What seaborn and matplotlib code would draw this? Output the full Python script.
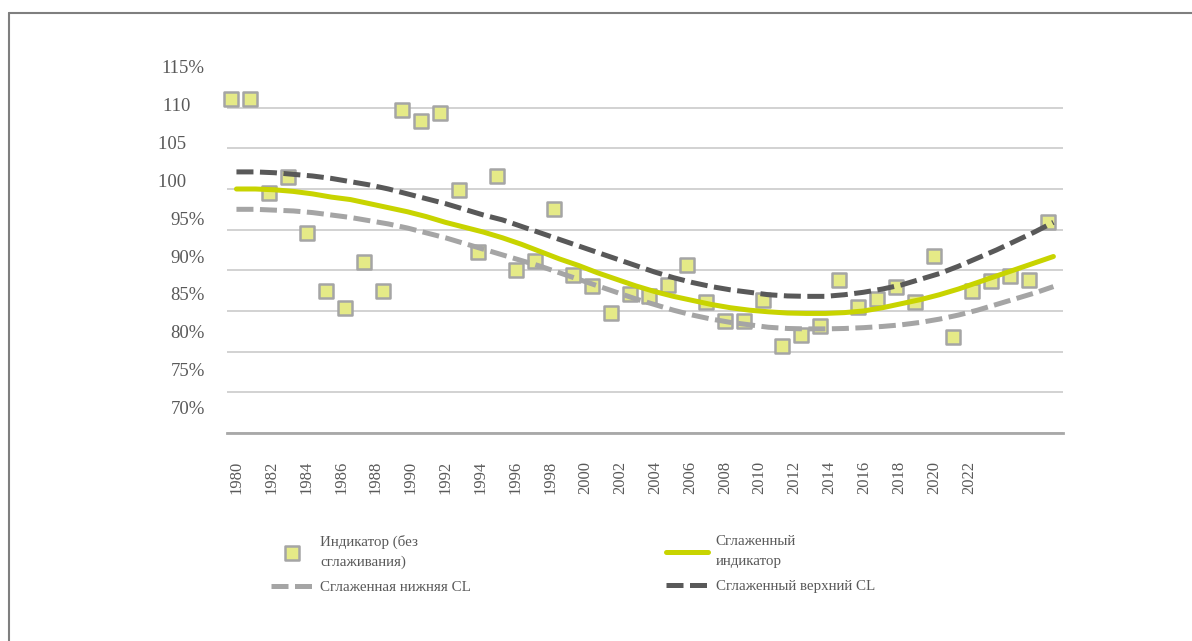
import numpy as np
import pandas as pd
import matplotlib
matplotlib.use('Agg')
import matplotlib.pyplot as plt
import matplotlib.transforms as mtransforms
from matplotlib.lines import Line2D
import seaborn as sns

years = list(range(1980, 2024))
indicator = [111.1, 111.1, 99.55, 101.5, 94.6, 87.4, 85.4, 91.05, 87.4, 109.7,
             108.4, 109.4, 99.9, 92.3, 101.6, 90.1, 91.1, 97.6, 89.45, 88.1,
             84.8, 87.1, 86.8, 88.2, 90.7, 86.1, 83.8, 83.8, 86.3, 80.7,
             82.1, 83.2, 88.75, 85.5, 86.5, 88.0, 86.05, 91.7, 81.8, 87.45,
             88.7, 89.3, 88.75, 95.9]
smoothed = [100.0, 100.0, 99.9, 99.7, 99.4, 99.0, 98.7, 98.2, 97.7, 97.2,
            96.6, 95.9, 95.3, 94.7, 94.0, 93.2, 92.3, 91.4, 90.6, 89.7,
            88.9, 88.1, 87.4, 86.8, 86.3, 85.8, 85.4, 85.1, 84.9, 84.75,
            84.7, 84.7, 84.8, 85.0, 85.4, 85.9, 86.4, 87.0, 87.7, 88.5,
            89.3, 90.1, 90.9, 91.7]
upper_cl = [102.1, 102.1, 102.0, 101.8, 101.6, 101.3, 100.9, 100.5, 100.0, 99.4,
            98.8, 98.2, 97.5, 96.8, 96.2, 95.4, 94.6, 93.8, 93.0, 92.2,
            91.4, 90.6, 89.8, 89.1, 88.5, 88.0, 87.6, 87.3, 87.0, 86.85,
            86.8, 86.8, 87.0, 87.3, 87.7, 88.2, 88.9, 89.6, 90.5, 91.5,
            92.5, 93.6, 94.7, 95.9]
lower_cl = [97.5, 97.5, 97.4, 97.3, 97.1, 96.8, 96.5, 96.1, 95.7, 95.2,
            94.6, 94.0, 93.3, 92.6, 91.9, 91.2, 90.5, 89.7, 88.9, 88.1,
            87.3, 86.5, 85.8, 85.1, 84.5, 84.0, 83.6, 83.3, 83.0, 82.85,
            82.8, 82.8, 82.85, 82.95, 83.1, 83.3, 83.6, 84.0, 84.5, 85.1,
            85.8, 86.5, 87.2, 88.0]

y_grid = [70, 75, 80, 85, 90, 95, 100, 105, 110, 115]
y_labels = ['70%', '75%', '80%', '85%', '90%', '95%', '100    ', '105    ', '110   ', '115%']
x_labels = [str(y) for y in years[::2]]

legend_names = ['Индикатор (без\nсглаживания)', 'Сглаженный\nиндикатор',
                'Сглаженная нижняя CL', 'Сглаженный верхний CL']

df = pd.DataFrame({'pos': np.arange(len(years)), 'year': years,
                   'indicator': indicator, 'smoothed': smoothed,
                   'lower': lower_cl, 'upper': upper_cl})

sns.set_style('white')
plt.rcParams['font.family'] = ['Liberation Serif', 'DejaVu Serif']

txt = '#595959'
fig = plt.figure(figsize=(11.92, 6.41), dpi=100)
ax = fig.add_axes([0.1904, 0.3245, 0.7013, 0.571])

sns.scatterplot(data=df, x='pos', y='indicator', marker='s', s=92,
                color='#e5ea87', edgecolor='#a5a5a5', linewidth=1.8,
                zorder=2, legend=False, label=legend_names[0], clip_on=False, ax=ax)
# squares sit a little left of the category centres in the original
pts = ax.collections[-1]
pts.set_offset_transform(pts.get_offset_transform() +
                         mtransforms.ScaledTranslation(-0.055, 0, fig.dpi_scale_trans))

sns.lineplot(data=df, x='pos', y='lower', color='#a5a5a5', lw=3.6,
             linestyle=(0, (3.4, 1.3)), dash_capstyle='butt', errorbar=None,
             zorder=3, legend=False, label=legend_names[2], ax=ax)
sns.lineplot(data=df, x='pos', y='smoothed', color='#c8d400', lw=3.6,
             errorbar=None, zorder=3, legend=False, label=legend_names[1], ax=ax)
sns.lineplot(data=df, x='pos', y='upper', color='#595959', lw=3.6,
             linestyle=(0, (3.4, 1.3)), dash_capstyle='butt', errorbar=None,
             zorder=3, legend=False, label=legend_names[3], ax=ax)

ax.set_xlim(-0.5, len(years) - 0.5)
ax.set_ylim(70, 115)
ax.set_xlabel('')
ax.set_ylabel('')

# gridlines on minor ticks, labels on major ticks (labels are packed tighter)
ax.set_yticks(y_grid, minor=True)
ax.set_yticks([115 - (115 - v) * 0.93 for v in y_grid])
ax.set_yticklabels(y_labels)
ax.set_xticks(np.arange(0, len(years), 2) * 0.918)
ax.set_xticklabels(x_labels, rotation=90)
ax.yaxis.grid(True, which='minor', color='#cfcfcf', lw=1.3)
ax.yaxis.grid(False, which='major')
ax.xaxis.grid(False)
ax.tick_params(axis='y', which='both', length=0, pad=16, labelsize=13.5, labelcolor=txt)
ax.tick_params(axis='x', which='both', length=0, pad=20, labelsize=12, labelcolor=txt)

for side in ['top', 'right', 'left']:
    ax.spines[side].set_visible(False)
ax.spines['bottom'].set_color('#a8a8a8')
ax.spines['bottom'].set_linewidth(2)

h, l = ax.get_legend_handles_labels()
order = [legend_names[0], legend_names[2], legend_names[1], legend_names[3]]
hmap = dict(zip(l, h))
leg = fig.legend([hmap[n] for n in order], order, loc='upper left',
                 bbox_to_anchor=(0.221, 0.178), ncol=2, frameon=False,
                 fontsize=10.8, labelcolor=txt, handlelength=2.8, handletextpad=0.5,
                 columnspacing=13.0, labelspacing=0.75, borderpad=0, scatterpoints=1)
for t in leg.get_texts():
    t.set_linespacing(1.7)

# outer chart frame (only top and left edges fall inside the picture)
fig.add_artist(Line2D([9 / 1192, 9 / 1192], [0, 1 - 13 / 641], transform=fig.transFigure,
                      color='#7f7f7f', lw=1.5))
fig.add_artist(Line2D([9 / 1192, 1], [1 - 13 / 641, 1 - 13 / 641], transform=fig.transFigure,
                      color='#7f7f7f', lw=1.5))

fig.savefig('out.png', dpi=100)
